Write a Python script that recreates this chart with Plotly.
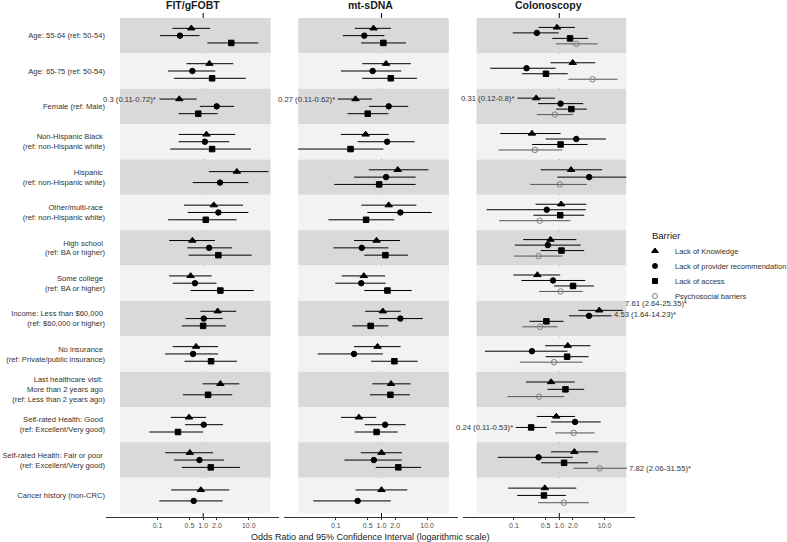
import math
import plotly.graph_objects as go

# ---------------- data ----------------
ROW_LABELS = [
    "Age: 55-64 (ref: 50-54)",
    "Age: 65-75 (ref: 50-54)",
    "Female (ref: Male)",
    "Non-Hispanic Black\u00a0<br>(ref: non-Hispanic white)",
    "Hispanic\u00a0<br>(ref: non-Hispanic white)",
    "Other/multi-race\u00a0<br>(ref: non-Hispanic white)",
    "High school\u00a0<br>(ref: BA or higher)",
    "Some college\u00a0<br>(ref: BA or higher)",
    "Income: Less than $60,000\u00a0<br>(ref: $60,000 or higher)",
    "No insurance\u00a0<br>(ref: Private/public insurance)",
    "Last healthcare visit:\u00a0<br>More than 2 years ago\u00a0<br>(ref: Less than 2 years ago)",
    "Self-rated Health: Good\u00a0<br>(ref: Excellent/Very good)",
    "Self-rated Health: Fair or poor\u00a0<br>(ref: Excellent/Very good)",
    "Cancer history (non-CRC)",
]

PANEL_TITLES = ["FIT/gFOBT", "mt-sDNA", "Colonoscopy"]
BARRIERS = ["Lack of Knowledge", "Lack of provider recommendation",
            "Lack of access", "Psychosocial barriers"]

TICK_VALUES = [0.1, 0.5, 1.0, 2.0, 10.0]
TICK_TEXT = ["0.1", "0.5", "1.0", "2.0", "10.0"]

# (odds ratio, lower 95% CI, upper 95% CI) per row; None = not estimated
FIT_KNOWLEDGE = [(0.55, 0.21, 1.42), (1.37, 0.43, 4.57), (0.3, 0.11, 0.72), (1.18, 0.29, 5.05),
                 (5.48, 1.33, 27.2), (1.71, 0.38, 7.5), (0.58, 0.18, 1.82), (0.53, 0.18, 1.54),
                 (2.08, 0.87, 5.3), (0.70, 0.215, 2.12), (2.38, 0.97, 6.2), (0.49, 0.195, 1.16),
                 (0.51, 0.147, 1.65), (0.89, 0.20, 3.73)]
FIT_PROVIDER = [(0.31, 0.114, 0.83), (0.58, 0.17, 1.85), (1.98, 0.85, 4.8), (1.09, 0.29, 3.73),
                (2.34, 0.59, 9.8), (2.15, 0.46, 9.8), (1.35, 0.45, 4.27), (0.66, 0.215, 1.95),
                (1.03, 0.41, 2.68), (0.60, 0.147, 2.12), None, (1.03, 0.40, 2.72),
                (0.83, 0.23, 2.86), (0.62, 0.109, 2.68)]
FIT_ACCESS = [(4.13, 1.24, 16.2), (1.57, 0.23, 8.6), (0.78, 0.29, 2.08), (1.57, 0.19, 11.2),
              None, (1.14, 0.17, 5.4), (2.15, 0.48, 11.6), (2.38, 0.53, 12.8),
              (1.0, 0.34, 3.16), (1.49, 0.39, 5.5), (1.28, 0.36, 4.34), (0.28, 0.066, 1.0),
              (1.47, 0.34, 6.4), None]
FIT_PSYCH = [None] * 14

MT_KNOWLEDGE = [(0.67, 0.26, 1.62), (1.26, 0.38, 4.4), (0.27, 0.11, 0.62), (0.45, 0.128, 1.44),
                (2.27, 0.53, 10.7), (1.44, 0.36, 5.8), (0.78, 0.25, 2.55), (0.41, 0.135, 1.20),
                (1.07, 0.44, 2.63), (0.82, 0.25, 2.63), (1.62, 0.63, 4.34), (0.32, 0.13, 0.77),
                (1.0, 0.35, 2.81), (1.0, 0.27, 3.67)]
MT_PROVIDER = [(0.42, 0.142, 1.16), (0.64, 0.13, 2.72), (1.44, 0.53, 3.86), (1.33, 0.30, 5.3),
               (1.26, 0.25, 5.6), (2.59, 0.49, 12.6), (0.37, 0.089, 1.42), (0.36, 0.097, 1.24),
               (2.59, 0.89, 8.05), (0.25, 0.04, 1.07), None, (1.20, 0.43, 3.38),
               (0.68, 0.154, 2.77), (0.30, 0.032, 1.60)]
MT_ACCESS = [(1.10, 0.36, 3.44), (1.60, 0.38, 5.96), (0.50, 0.18, 1.42), (0.21, 0.015, 1.10),
             (0.89, 0.092, 5.6), (0.46, 0.069, 1.92), (1.22, 0.42, 3.8), (1.35, 0.42, 4.6),
             (0.58, 0.23, 1.42), (1.92, 0.59, 6.2), (1.57, 0.56, 4.2), (0.78, 0.26, 2.27),
             (2.34, 0.75, 7.4), None]
MT_PSYCH = [None] * 14

COL_KNOWLEDGE = [(0.89, 0.35, 2.23), (1.98, 0.64, 6.2), (0.31, 0.12, 0.8), (0.25, 0.05, 1.07),
                 (1.82, 0.39, 8.9), (1.10, 0.30, 3.93), (0.64, 0.16, 2.38), (0.33, 0.098, 1.05),
                 (7.61, 2.64, 25.35), (1.54, 0.49, 4.88), (0.66, 0.185, 2.19), (0.86, 0.32, 2.23),
                 (2.15, 0.66, 7.2), (0.48, 0.075, 2.38)]
COL_PROVIDER = [(0.32, 0.094, 0.97), (0.19, 0.030, 0.83), (1.07, 0.34, 3.38), (2.38, 0.50, 10.7),
                (4.56, 0.91, 30.0), (0.53, 0.025, 3.86), (0.56, 0.105, 2.96), (0.73, 0.147, 3.73),
                (4.53, 1.64, 14.23), (0.25, 0.023, 1.52), None, (2.23, 0.66, 8.2),
                (0.35, 0.044, 1.98), None]
COL_ACCESS = [(1.73, 0.70, 4.34), (0.51, 0.15, 1.54), (1.85, 0.85, 4.06), (1.07, 0.25, 4.2),
              None, (1.05, 0.27, 3.55), (1.12, 0.39, 3.55), (2.01, 0.77, 5.8),
              (0.52, 0.22, 1.24), (1.49, 0.50, 4.42), (1.37, 0.55, 3.55), (0.24, 0.11, 0.53),
              (1.28, 0.40, 4.27), (0.46, 0.118, 1.40)]
COL_PSYCH = [(2.38, 0.85, 7.05), (5.4, 1.60, 19.2), (0.80, 0.32, 2.01), (0.29, 0.046, 1.16),
             (1.03, 0.23, 4.06), (0.37, 0.047, 1.76), (0.35, 0.10, 1.16), (1.07, 0.36, 3.27),
             (0.38, 0.154, 0.91), (0.77, 0.135, 3.27), (0.36, 0.072, 1.28), (2.08, 0.81, 5.96),
             (7.82, 2.06, 31.55), (1.26, 0.34, 4.49)]

PANELS = [
    [FIT_KNOWLEDGE, FIT_PROVIDER, FIT_ACCESS, FIT_PSYCH],
    [MT_KNOWLEDGE, MT_PROVIDER, MT_ACCESS, MT_PSYCH],
    [COL_KNOWLEDGE, COL_PROVIDER, COL_ACCESS, COL_PSYCH],
]

# labelled estimates: (panel index, barrier index, row index, side, vertical nudge px)
LABELLED = [(0, 0, 2, "left", 0), (1, 0, 2, "left", 0), (2, 0, 2, "left", 0),
            (2, 0, 8, "right", 6.5), (2, 1, 8, "right", 1.5), (2, 2, 11, "left", 0),
            (2, 3, 12, "right", 0)]

# ---------------- styling ----------------
SYMBOLS = ["triangle-up", "circle", "square", "circle-open"]
SIZES = [6.5, 5.5, 5.5, 5.5]
MCOLORS = ["black", "black", "black", "#808080"]
LCOLORS = ["black", "black", "black", "#555555"]
BAND_DARK, BAND_LIGHT = "#d9d9d9", "#f2f2f2"
BAND_X = (0.015, 30.0)
XRANGE = [-2.13, 1.67]
DOMAINS = [[0.0, 0.3277], [0.337, 0.6648], [0.6742, 1.0]]
DODGE = 0.62
FONT = "Liberation Sans, Arial, sans-serif"
TEXT = "#333333"

N = len(ROW_LABELS)


def dodge_positions(series_list):
    ys = [[None] * N for _ in series_list]
    for r in range(N):
        present = [k for k, s in enumerate(series_list) if s[r] is not None]
        n = len(present)
        for j, k in enumerate(present):
            ys[k][r] = (r + 1) + (j - (n - 1) / 2) * DODGE / n
    return ys


def fmt(v):
    return "%g" % v


fig = go.Figure()
annotations = []
shapes = []

for p, series_list in enumerate(PANELS):
    xa = "x" if p == 0 else f"x{p + 1}"
    ys = dodge_positions(series_list)
    for k, series in enumerate(series_list):
        xs, yy, ep, em = [], [], [], []
        for r, est in enumerate(series):
            if est is None:
                continue
            orv, lo, hi = est
            xs.append(orv)
            yy.append(ys[k][r])
            ep.append(hi - orv)
            em.append(orv - lo)
        if not xs:
            continue
        fig.add_trace(go.Scatter(
            x=xs, y=yy, xaxis=xa, yaxis="y", mode="markers",
            marker=dict(symbol=SYMBOLS[k], size=SIZES[k], color=MCOLORS[k],
                        line=dict(width=1, color=MCOLORS[k])),
            error_x=dict(type="data", symmetric=False, array=ep, arrayminus=em,
                         width=0, thickness=1, color=LCOLORS[k]),
            showlegend=False, hoverinfo="skip"))
    # background bands
    for r in range(N):
        shapes.append(dict(type="rect", xref=xa, yref="y", x0=BAND_X[0], x1=BAND_X[1],
                           y0=r + 0.5, y1=r + 1.5, line=dict(width=0),
                           fillcolor=BAND_DARK if r % 2 == 0 else BAND_LIGHT, layer="below"))
    # reference line at OR = 1
    shapes.append(dict(type="line", xref=xa, yref="y domain", x0=1, x1=1, y0=0, y1=1,
                       line=dict(color="black", width=1), layer="below"))
    # panel title
    annotations.append(dict(text=f"<b>{PANEL_TITLES[p]}</b>", xref=f"{xa} domain", x=0.5,
                            yref="paper", y=1, yshift=8, yanchor="middle", showarrow=False,
                            font=dict(size=10.5, color="#1a1a1a", family=FONT)))

# labels for significant estimates
for p, k, r, side, nudge in LABELLED:
    xa = "x" if p == 0 else f"x{p + 1}"
    ys = dodge_positions(PANELS[p])
    orv, lo, hi = PANELS[p][k][r]
    txt = f"{fmt(orv)} ({fmt(lo)}-{fmt(hi)})*"
    anchor_val = lo if side == "left" else hi
    annotations.append(dict(text=txt, xref=xa, yref="y", x=math.log10(anchor_val), y=ys[k][r],
                            xanchor="right" if side == "left" else "left", yanchor="middle",
                            xshift=-2 if side == "left" else 1, yshift=nudge, showarrow=False,
                            borderpad=0,
                            font=dict(size=7.7, color=TEXT, family=FONT)))

# shared x title
annotations.append(dict(text="Odds Ratio and 95% Confidence Interval (logarithmic scale)",
                        xref="paper", yref="paper", x=0.5, y=0, yshift=-20, yanchor="middle",
                        showarrow=False, font=dict(size=9, color="#1a1a1a", family=FONT)))
# legend title
annotations.append(dict(text="Barrier", xref="paper", yref="paper", x=(655 - 106) / 534,
                        y=(517 - 235) / 504, xanchor="left", yanchor="middle", showarrow=False,
                        font=dict(size=9.5, color="#1a1a1a", family=FONT)))

# legend entries (one legend per entry to control spacing)
LEG_Y_PX = [251, 266, 281, 296]
legend_layouts = {}
for k, name in enumerate(BARRIERS):
    lname = "legend" if k == 0 else f"legend{k + 1}"
    fig.add_trace(go.Scatter(x=[None], y=[None], mode="markers", name=name,
                             marker=dict(symbol=SYMBOLS[k], size=SIZES[k] - 0.5, color=MCOLORS[k],
                                         line=dict(width=1, color=MCOLORS[k])),
                             legend=lname, showlegend=True))
    legend_layouts[lname] = dict(xref="container", yref="container", x=635 / 787,
                                 y=1 - LEG_Y_PX[k] / 542, xanchor="left", yanchor="middle",
                                 bgcolor="rgba(0,0,0,0)", borderwidth=0,
                                 font=dict(size=7.5, color=TEXT, family=FONT))

axis_common = dict(type="log", range=XRANGE, tickvals=TICK_VALUES, ticktext=TICK_TEXT,
                   ticks="outside", ticklen=2, tickwidth=1, tickcolor=TEXT,
                   showline=True, linecolor=TEXT, linewidth=1, showgrid=False,
                   zeroline=False, tickfont=dict(size=7, color="#4d4d4d", family=FONT),
                   anchor="y", automargin=False)

layout = dict(
    template="none",
    width=787, height=542, autosize=False,
    margin=dict(l=106, r=147, t=13, b=25),
    paper_bgcolor="white", plot_bgcolor="white",
    font=dict(family=FONT, color=TEXT),
    xaxis=dict(domain=DOMAINS[0], **axis_common),
    xaxis2=dict(domain=DOMAINS[1], **axis_common),
    xaxis3=dict(domain=DOMAINS[2], **axis_common),
    yaxis=dict(range=[14.61, 0.36], tickvals=list(range(1, N + 1)), ticktext=ROW_LABELS,
               ticks="", showline=False, showgrid=False, zeroline=False, anchor="x",
               automargin=False, tickfont=dict(size=7.6, color=TEXT, family=FONT)),
    shapes=shapes, annotations=annotations,
)
layout.update(legend_layouts)
fig.update_layout(**layout)

fig.write_html("out.html", config={"displayModeBar": False, "staticPlot": True},
               post_script="document.body.style.margin='0px';document.body.style.overflow='hidden';")
